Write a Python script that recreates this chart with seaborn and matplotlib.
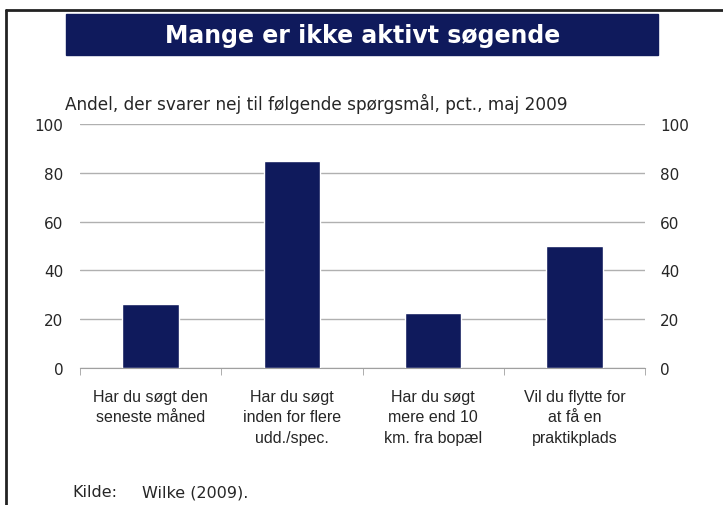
import numpy as np
import pandas as pd
import matplotlib
matplotlib.use("Agg")
import matplotlib.pyplot as plt
import seaborn as sns
from matplotlib.patches import Rectangle
from matplotlib.lines import Line2D

# Data
categories = ["Har du søgt den\nseneste måned",
              "Har du søgt\ninden for flere\nudd./spec.",
              "Har du søgt\nmere end 10\nkm. fra bopæl",
              "Vil du flytte for\nat få en\npraktikplads"]
values = [26.3, 85, 22.7, 50]
yticks = [0, 20, 40, 60, 80, 100]

navy = "#0f1a5c"
txt = "#262626"

sns.set_style("white")
plt.rcParams['font.family'] = ['DejaVu Sans']

df = pd.DataFrame({"q": categories, "andel": values})

fig = plt.figure(figsize=(7.23, 5.06), dpi=100)
ax = fig.add_axes([80/723, 1-369/506, (645-80)/723, (369-125)/506])

sns.barplot(data=df, x="q", y="andel", color=navy, width=0.4,
            saturation=1, ax=ax, zorder=3)

ax.set_ylim(0, 100)
ax.set_xlim(-0.5, 3.5)
ax.set_yticks(yticks)
ax.yaxis.grid(True, color="#b0b0b0", lw=1, zorder=0)
ax.set_axisbelow(True)
ax.set_xlabel("")
ax.set_ylabel("")
for s in ["top", "left", "right"]:
    ax.spines[s].set_visible(False)
ax.spines["bottom"].set_color("#a0a0a0")

# category tick marks at the boundaries, labels centred under bars
ax.set_xticks(np.arange(len(categories)))
ax.set_xticklabels(categories, fontsize=11.5, color=txt, linespacing=1.45,
                   family=["Liberation Sans"])
ax.set_xticks(np.arange(-0.5, len(categories)), minor=True)
ax.tick_params(axis="x", which="major", length=0, pad=15)
ax.tick_params(axis="x", which="minor", length=5, color="#a0a0a0", direction="out",
               bottom=True)
ax.tick_params(axis="y", length=0, labelsize=11, labelcolor=txt, pad=12)

ax2 = ax.twinx()
ax2.set_ylim(ax.get_ylim())
ax2.set_yticks(yticks)
ax2.tick_params(axis="y", length=0, labelsize=11, labelcolor=txt, pad=11)
for s in ax2.spines.values():
    s.set_visible(False)

# title box
fig.patches.append(Rectangle((66/723, 1-56/506), 592/723, 41/506,
                             transform=fig.transFigure, color=navy, zorder=0))
fig.text(363/723, 1-36/506, "Mange er ikke aktivt søgende", color="white",
         fontsize=17, fontweight="bold", ha="center", va="center")

fig.text(65/723, 1-104/506,
         "Andel, der svarer nej til følgende spørgsmål, pct., maj 2009",
         fontsize=12.2, color=txt, ha="left", va="center")

fig.text(72/723, 1-493/506, "Kilde:", fontsize=11.5, color=txt, va="center")
fig.text(142/723, 1-493/506, "Wilke (2009).", fontsize=11.5, color=txt, va="center")

# frame lines (left and top)
fig.lines.append(Line2D([6/723, 6/723], [0, 1-11/506], transform=fig.transFigure,
                        color="#222222", lw=2))
fig.lines.append(Line2D([6/723, 1], [1-11/506, 1-11/506], transform=fig.transFigure,
                        color="#222222", lw=2))

fig.savefig("out.png", dpi=100)
